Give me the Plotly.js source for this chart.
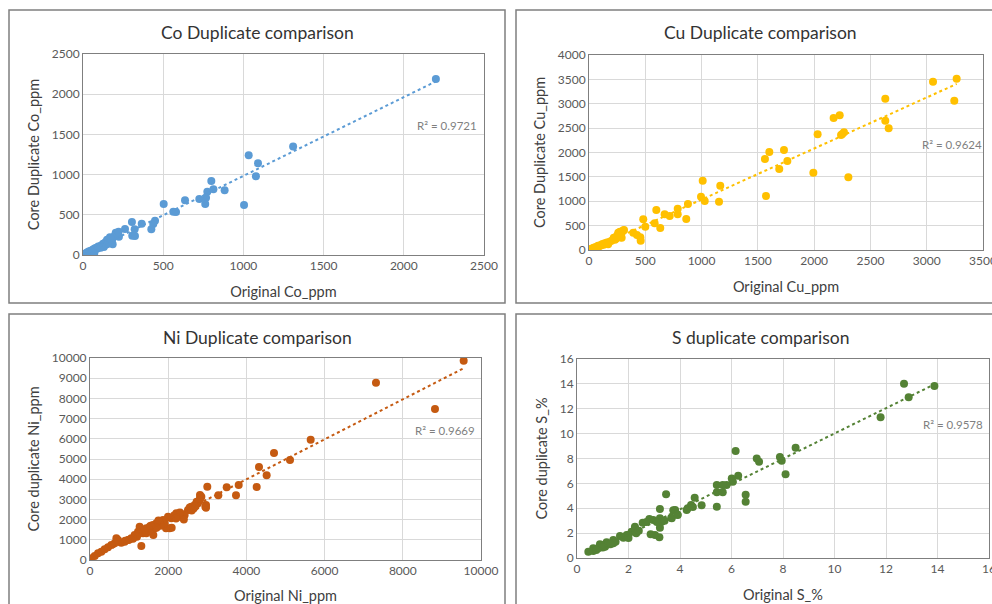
<!DOCTYPE html>
<html>
<head>
<meta charset="utf-8">
<script src="https://cdn.plot.ly/plotly-3.0.1.min.js"></script>
<style>html,body{margin:0;padding:0;background:#fff;}#chart{width:992px;height:604px;}</style>
</head>
<body>
<div id="chart"></div>
<script>
// ---------- Data ----------
const coOriginal = [2200,1310,1033,1091,1078,1004,800,775,813,883,767,725,762,636,503,563,580,449,438,426,366,305,322,307,324,262,204,224,189,185,168,160,150,145,140,130,125,120,110,100,95,90,85,80,75,70,65,60,55,50,45,40,35,30,25,20,15,10,5,70,201,222,181,110,130,155,175];
const coDuplicate = [2190,1350,1240,1141,979,622,920,788,817,805,713,697,634,680,634,539,535,427,386,320,390,410,320,240,236,323,278,228,220,133,220,175,190,130,160,120,140,105,115,95,105,80,90,70,85,65,72,55,60,45,50,38,42,25,30,18,20,8,5,21,249,290,187,90,100,140,200];

const cuOriginal = [3266,3056,3245,2632,2632,2662,2173,2227,2265,2239,2250,2031,1993,2304,1732,1762,1690,1602,1563,1572,1010,995,1028,1155,1166,879,788,788,864,598,672,717,583,633,482,500,393,426,456,459,311,275,290,260,284,300,250,240,220,200,180,160,150,140,130,120,110,100,90,80,70,60,50,40,30,20,10,5,170,270,305,230];
const cuDuplicate = [3514,3452,3063,3104,2652,2496,2707,2762,2414,2359,2380,2373,1586,1491,2051,1825,1661,2010,1866,1108,1421,1094,1005,991,1319,943,848,732,636,820,732,697,547,451,629,479,355,308,260,191,410,375,252,355,260,390,300,230,250,190,165,155,130,140,110,125,95,100,75,85,55,60,40,45,20,25,10,2,120,330,400,210];

const niOriginal = [9557,7314,8823,5644,4706,5115,4322,4518,4263,3803,3496,3734,3282,3000,2813,2813,2967,2967,2728,2950,2848,2805,2762,2677,2591,2506,2421,2293,2208,2080,1995,2037,2089,1944,1910,1867,1782,1697,1611,1526,1441,1355,1313,1270,1228,1142,1057,972,886,800,716,675,630,545,460,375,290,205,120,33,1620,1654,1441,2550,2650,2400,2300,2150,1800,1750,1500,1400,1250,1200,1100,1000,900,1700,2600,2700,2200,1550];
const niDuplicate = [9866,8777,7475,5955,5297,4950,4604,4191,3614,3713,3600,3201,3201,3630,3218,3053,2723,2590,2888,2640,3135,2950,2805,2723,2640,2475,2228,2145,2310,2063,2145,1568,1600,1567,1815,1980,1898,1815,1733,1650,1568,1320,693,1650,1403,1238,1073,990,907,858,990,1073,825,742,627,528,413,330,198,84,1238,1568,1320,2600,2550,2000,2350,2200,1700,1950,1450,1500,1300,1150,1050,1000,950,1600,2450,2650,2050,1700];

const sOriginal = [13.88,12.70,12.88,11.79,8.49,7.88,7.95,8.10,6.98,7.07,6.16,6.26,6.01,6.05,5.81,5.66,5.43,5.43,5.66,5.43,6.55,6.55,4.84,4.57,4.43,4.30,3.46,3.74,3.91,3.66,3.22,3.22,3.22,3.20,3.03,2.86,2.96,2.81,2.55,2.25,2.12,1.93,1.67,1.41,1.15,0.89,0.63,0.44,0.63,0.83,0.96,1.09,1.22,1.41,1.80,1.99,2.25,3.29,3.68,3.81,4.26,2.0,2.3,1.5,2.7,3.4,3.1,1.0,0.75,2.4,1.3,4.5,3.9];
const sDuplicate = [13.83,14.01,12.92,11.31,8.87,8.12,7.82,6.73,8.01,7.74,8.60,6.62,6.40,6.13,5.87,5.87,5.87,5.28,5.28,4.12,5.09,4.53,4.24,4.85,4.26,3.99,5.12,3.83,3.46,3.24,3.94,3.19,2.44,1.66,1.85,1.90,3.05,3.13,2.84,2.52,2.12,1.85,1.77,1.45,1.26,1.10,0.78,0.51,0.56,0.78,1.05,0.91,1.10,1.18,1.63,1.85,2.39,2.92,3.19,3.86,3.86,1.6,2.0,1.3,2.9,3.0,2.9,0.85,0.65,2.2,1.1,4.1,3.5];

const panelTitles = ["Co Duplicate comparison","Cu Duplicate comparison","Ni Duplicate comparison","S duplicate comparison"];
const xTitles = ["Original Co_ppm","Original Cu_ppm","Original Ni_ppm","Original S_%"];
const yTitles = ["Core Duplicate Co_ppm","Core Duplicate Cu_ppm","Core duplicate Ni_ppm","Core duplicate S_%"];
const r2Labels = ["R\u00b2 = 0.9721","R\u00b2 = 0.9624","R\u00b2 = 0.9669","R\u00b2 = 0.9578"];

// ---------- Helpers ----------
function fit(xs, ys){
  const n = xs.length;
  let sx=0, sy=0, sxx=0, sxy=0;
  for(let i=0;i<n;i++){ sx+=xs[i]; sy+=ys[i]; sxx+=xs[i]*xs[i]; sxy+=xs[i]*ys[i]; }
  const b = (n*sxy - sx*sy)/(n*sxx - sx*sx);
  const a = (sy - b*sx)/n;
  const x0 = Math.min(...xs), x1 = Math.max(...xs);
  return {x:[x0,x1], y:[a+b*x0, a+b*x1]};
}

const series = [
  {x:coOriginal, y:coDuplicate, color:"#5B9BD5"},
  {x:cuOriginal, y:cuDuplicate, color:"#FFC000"},
  {x:niOriginal, y:niDuplicate, color:"#C55A11"},
  {x:sOriginal,  y:sDuplicate,  color:"#548235"}
];

const traces = [];
series.forEach((s, i) => {
  const ax = i===0 ? "" : String(i+1);
  traces.push({type:"scatter", mode:"markers", x:s.x, y:s.y, xaxis:"x"+ax, yaxis:"y"+ax,
    marker:{color:s.color, size:8, line:{width:0}}, showlegend:false, hoverinfo:"x+y"});
  const t = fit(s.x, s.y);
  traces.push({type:"scatter", mode:"lines", x:t.x, y:t.y, xaxis:"x"+ax, yaxis:"y"+ax,
    line:{color:s.color, width:2, dash:"dot"}, showlegend:false, hoverinfo:"skip"});
});

const W = 992, H = 604;
const px = v => v/W, py = v => 1 - v/H;

const domains = [
  {x:[px(83),px(484)], y:[py(255),py(54)], xr:[0,2500], yr:[0,2500], dx:500, dy:500},
  {x:[px(589),px(983)], y:[py(250),py(55)], xr:[0,3500], yr:[0,4000], dx:500, dy:500},
  {x:[px(90),px(481)], y:[py(560),py(358)], xr:[0,10000], yr:[0,10000], dx:2000, dy:1000},
  {x:[px(577),px(989)], y:[py(558),py(359)], xr:[0,16], yr:[0,16], dx:2, dy:2}
];

const FAM = "Lato, 'Open Sans', sans-serif";
const tickFont = {family:FAM, size:12, color:"#595959"};
const axTitleFont = {family:FAM, size:14.5, color:"#404040"};

const layout = {
  width:W, height:H, margin:{l:0,r:0,t:0,b:0},
  paper_bgcolor:"#ffffff", plot_bgcolor:"#ffffff",
  font:{family:FAM, color:"#404040"},
  showlegend:false, annotations:[], shapes:[]
};

domains.forEach((d, i) => {
  const ax = i===0 ? "" : String(i+1);
  layout["xaxis"+ax] = {domain:d.x, range:d.xr, dtick:d.dx, tick0:0, anchor:"y"+ax,
    showgrid:true, gridcolor:"#d9d9d9", zeroline:false, showline:true, mirror:true,
    linecolor:"#7f7f7f", linewidth:1, ticks:"", tickfont:tickFont, automargin:false,
    tickformat:"d", ticklabeloverflow:"allow",
    title:{text:xTitles[i], font:axTitleFont, standoff:14}};
  layout["yaxis"+ax] = {domain:d.y, range:d.yr, dtick:d.dy, tick0:0, anchor:"x"+ax,
    showgrid:true, gridcolor:"#d9d9d9", zeroline:false, showline:true, mirror:true,
    linecolor:"#7f7f7f", linewidth:1, ticks:"", tickfont:tickFont, automargin:false,
    tickformat:"d", ticklabeloverflow:"allow",
    title:{text:yTitles[i], font:axTitleFont, standoff:8}};
});

// panel titles
const titlePos = [[257,32],[760,32],[257,337],[760,337]];
titlePos.forEach((p,i) => {
  layout.annotations.push({text:panelTitles[i], xref:"paper", yref:"paper", x:px(p[0]), y:py(p[1]),
    xanchor:"center", yanchor:"middle", showarrow:false,
    font:{family:FAM, size:17.5, color:"#333333"}});
});
// R² labels
const r2Pos = [[447,125],[952,144],[445,430],[953,424]];
r2Pos.forEach((p,i) => {
  layout.annotations.push({text:r2Labels[i], xref:"paper", yref:"paper", x:px(p[0]), y:py(p[1]),
    xanchor:"center", yanchor:"middle", showarrow:false,
    font:{family:FAM, size:11.5, color:"#7f7f7f"}});
});
// panel frames
const frames = [[9,10,505,303],[516,10,1010,303],[9,314,505,620],[516,314,1010,620]];
frames.forEach(f => {
  layout.shapes.push({type:"rect", xref:"paper", yref:"paper", x0:px(f[0]), x1:px(f[2]), y0:py(f[3]), y1:py(f[1]),
    line:{color:"#7f7f7f", width:1.5}, fillcolor:"rgba(0,0,0,0)", layer:"below"});
});

Plotly.newPlot("chart", traces, layout, {staticPlot:true, displayModeBar:false});
</script>
</body>
</html>
